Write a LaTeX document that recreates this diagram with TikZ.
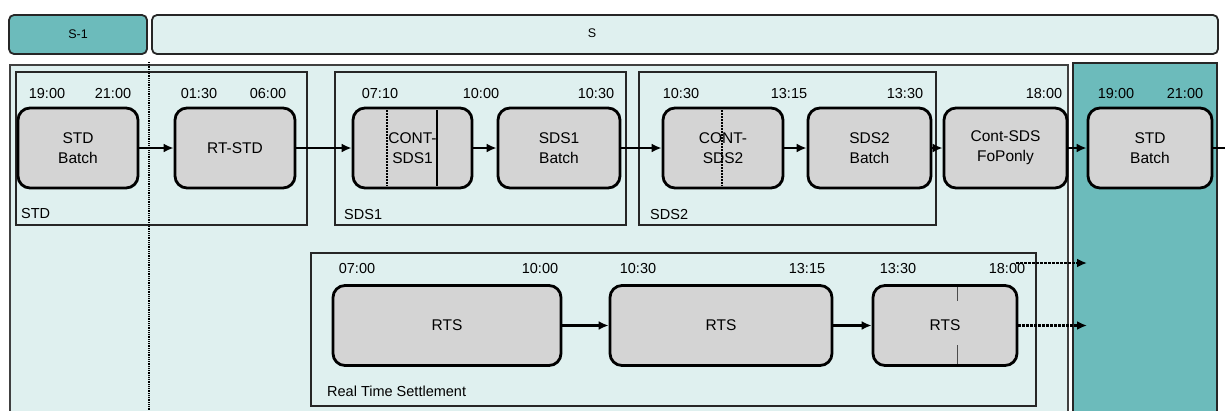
\documentclass[tikz,border=0pt]{standalone}
\usepackage{fontspec}
\setmainfont{Liberation Sans}
\usetikzlibrary{arrows.meta}
\definecolor{tealA}{HTML}{6CBBBB}
\definecolor{paleA}{HTML}{DFF0EF}
\definecolor{procgray}{HTML}{D4D4D4}
\begin{document}
\begin{tikzpicture}[x=1pt,y=-1pt,
  every node/.style={font=\fontsize{15.5}{20}\selectfont},
  proc/.style={draw=black, line width=2.8pt, fill=procgray, rounded corners=12pt,
    align=center, inner sep=0pt, minimum height=80pt},
  grp/.style={draw=black!85, line width=1.1pt},
  arr/.style={line width=2.6pt, -{Latex[length=10pt,width=9pt]}},
  darr/.style={line width=2.4pt, dash pattern=on 3pt off 1pt, -{Latex[length=10pt,width=9pt]}},
  tm/.style={inner sep=0pt, font=\fontsize{14.5}{16}\selectfont},
  glab/.style={inner sep=0pt, anchor=west, font=\fontsize{14.5}{16}\selectfont},
  barlab/.style={inner sep=0pt, font=\fontsize{12.5}{14}\selectfont},
  inner/.style={line width=1.2pt, dash pattern=on 2pt off 1pt}
]
\useasboundingbox (0,0) rectangle (1225,410);
\fill[white] (0,0) rectangle (1225,410);

% top bars
\draw[fill=tealA, draw=black!85, line width=1.8pt, rounded corners=5pt] (9,15) rectangle (147,54);
\node[barlab] (sm1) at (78,34) {S-1};
\draw[fill=paleA, draw=black!85, line width=1.8pt, rounded corners=5pt] (152,15) rectangle (1218,54);
\node[barlab] (s) at (592,33) {S};

% main areas
\fill[paleA] (10,65) rectangle (1068,412);
\draw[black!75, line width=1.1pt] (10,412) -- (10,65) -- (1068,65) -- (1068,412);
\draw[fill=tealA, draw=black!85, line width=1.3pt] (1073,63) rectangle (1217,414);

% groups
\draw[grp] (16,72) rectangle (307,225);
\node[glab] (gstd) at (21,214) {STD};
\draw[grp] (335,72) rectangle (626,225);
\node[glab] (gsds1) at (344,215) {SDS1};
\draw[grp] (639,72) rectangle (936,225);
\node[glab] (gsds2) at (650,215) {SDS2};
\draw[grp] (311,253) rectangle (1036,406);
\node[glab] (grts) at (327,391) {Real Time Settlement};

% row 1 process nodes
\node[proc, minimum width=120pt] (stdA) at (78,148) {STD\\Batch};
\node[proc, minimum width=120pt] (rtstd) at (235,148) {RT-STD};
\node[proc, minimum width=119pt] (cont1) at (412.5,148) {CONT-\\SDS1};
\node[proc, minimum width=122pt] (sds1b) at (559,148) {SDS1\\Batch};
\node[proc, minimum width=120pt] (cont2) at (723,148) {CONT-\\SDS2};
\node[proc, minimum width=123pt] (sds2b) at (869.5,148) {SDS2\\Batch};
\node[proc, minimum width=123pt] (contsds) at (1005.5,148) {Cont-SDS\\FoPonly};
\node[proc, minimum width=124pt] (stdB) at (1150,148) {STD\\Batch};

% inner markers
\draw[inner] (387,110) -- (387,186);
\draw[line width=1.2pt] (437,110) -- (437,186);
\draw[inner] (722,110) -- (722,186);

% row 2 process nodes
\node[proc, minimum width=228pt] (rts1) at (447,325.5) {RTS};
\node[proc, minimum width=222pt] (rts2) at (721,325.5) {RTS};
\node[proc, minimum width=144pt] (rts3) at (945,325.5) {RTS};
\draw[black!70, line width=1pt] (957,287) -- (957,301);
\draw[black!70, line width=1pt] (957,345) -- (957,364);

% times row 1
\node[tm] (t1) at (47,94) {19:00};
\node[tm] (t2) at (113,94) {21:00};
\node[tm] (t3) at (199,94) {01:30};
\node[tm] (t4) at (268,94) {06:00};
\node[tm] (t5) at (380,94) {07:10};
\node[tm] (t6) at (481,94) {10:00};
\node[tm] (t7) at (596,94) {10:30};
\node[tm] (t8) at (681,94) {10:30};
\node[tm] (t9) at (789,94) {13:15};
\node[tm] (t10) at (905,94) {13:30};
\node[tm] (t11) at (1044,94) {18:00};
\node[tm] (t12) at (1116,94) {19:00};
\node[tm] (t13) at (1185,94) {21:00};
% times row 2
\node[tm] (r1) at (357,269) {07:00};
\node[tm] (r2) at (540,269) {10:00};
\node[tm] (r3) at (638,269) {10:30};
\node[tm] (r4) at (807,269) {13:15};
\node[tm] (r5) at (898,269) {13:30};
\node[tm] (r6) at (1007,269) {18:00};

% arrows row 1
\draw[arr] (stdA) -- (rtstd);
\draw[arr] (rtstd) -- (cont1);
\draw[arr] (cont1) -- (sds1b);
\draw[arr] (sds1b) -- (cont2);
\draw[arr] (cont2) -- (sds2b);
\draw[arr] (sds2b) -- (contsds);
\draw[arr] (contsds) -- (stdB);
\coordinate (edge) at (1225,148);
\draw[line width=2.2pt] (stdB) -- (edge);

% arrows row 2
\draw[arr] (rts1) -- (rts2);
\draw[arr] (rts2) -- (rts3);
\coordinate (s1) at (1016,263);
\coordinate (o1) at (1087,263);
\coordinate (o2) at (1087,325.5);
\draw[darr] (s1) -- (o1);
\draw[darr] (rts3.east) -- (o2);

% period boundary
\coordinate (vb1) at (149,62);
\coordinate (vb2) at (149,412);
\draw[line width=1.8pt, dash pattern=on 1pt off 0.8pt] (vb1) -- (vb2);
\end{tikzpicture}
\end{document}
